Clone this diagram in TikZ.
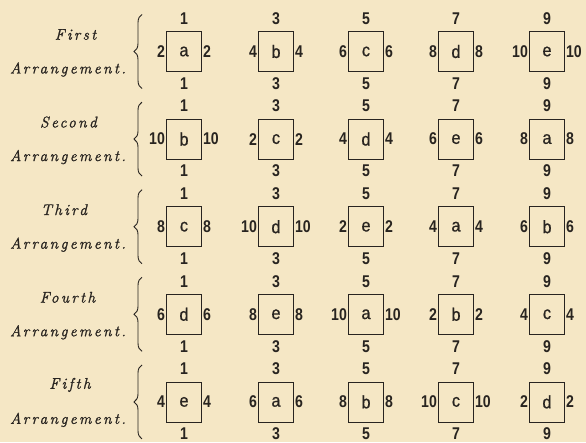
\documentclass[tikz,border=0pt]{standalone}
\usepackage{fontspec}
\newfontfamily\numfont{Liberation Sans}[FakeStretch=0.83]
\newfontfamily\letfont{Liberation Sans}[FakeStretch=0.9,FakeBold=0.7]
\newfontfamily\labfont{Latin Modern Roman}[LetterSpace=15,FakeBold=1.3]
\usetikzlibrary{decorations.pathreplacing}
\definecolor{paper}{RGB}{245,231,197}
\definecolor{ink}{RGB}{40,36,32}
\tikzset{
  cell/.style={draw=ink, line width=0.8pt, minimum width=35pt, minimum height=40pt, inner sep=0pt,
    text=ink, font=\letfont\fontsize{18}{18}\selectfont},
  num/.style={text=ink, inner sep=1pt, font=\numfont\bfseries\fontsize{17}{17}\selectfont},
  lab/.style={text=ink, inner sep=0pt, font=\labfont\itshape\fontsize{15.5}{15.5}\selectfont},
  bracestyle/.style={draw=ink, line width=0.9pt, decorate, decoration={brace, amplitude=8pt}}
}
\begin{document}
\begin{tikzpicture}[x=1pt,y=-1pt]
\fill[paper] (0,0) rectangle (586,442);
\useasboundingbox (0,0) rectangle (586,442);
\foreach \r/\word/\wx in {0/First/75.5,1/Second/68.5,2/Third/64,3/Fourth/67.5,4/Fifth/70}{
  \pgfmathsetmacro\Y{51.5+87.6*\r}
  \node[lab] (w-\r) at (\wx,\Y-17) {\word};
  \node[lab] (arr-\r) at (68,\Y+18) {Arrangement.};
  \coordinate (bt-\r) at (142,\Y-37);
  \coordinate (bb-\r) at (142,\Y+37);
  \draw[bracestyle] (bb-\r) -- (bt-\r);
  \foreach \c/\x in {0/184,1/276,2/366,3/456,4/547}{
    \pgfmathparse{{"a","b","c","d","e"}[int(mod(\c+\r,5))]}
    \let\L\pgfmathresult
    \pgfmathtruncatemacro\S{2*(mod(\c-\r+5,5)+1)}
    \pgfmathtruncatemacro\T{2*\c+1}
    \node[cell] (box-\r-\c) at (\x,\Y) {\L};
    \node[num, anchor=east] (left-\r-\c) at (box-\r-\c.west) {\S};
    \node[num, anchor=west] (right-\r-\c) at (box-\r-\c.east) {\S};
    \node[num] (top-\r-\c) at (\x,\Y-33) {\T};
    \node[num] (bot-\r-\c) at (\x,\Y+32) {\T};
  }
}
\end{tikzpicture}
\end{document}
